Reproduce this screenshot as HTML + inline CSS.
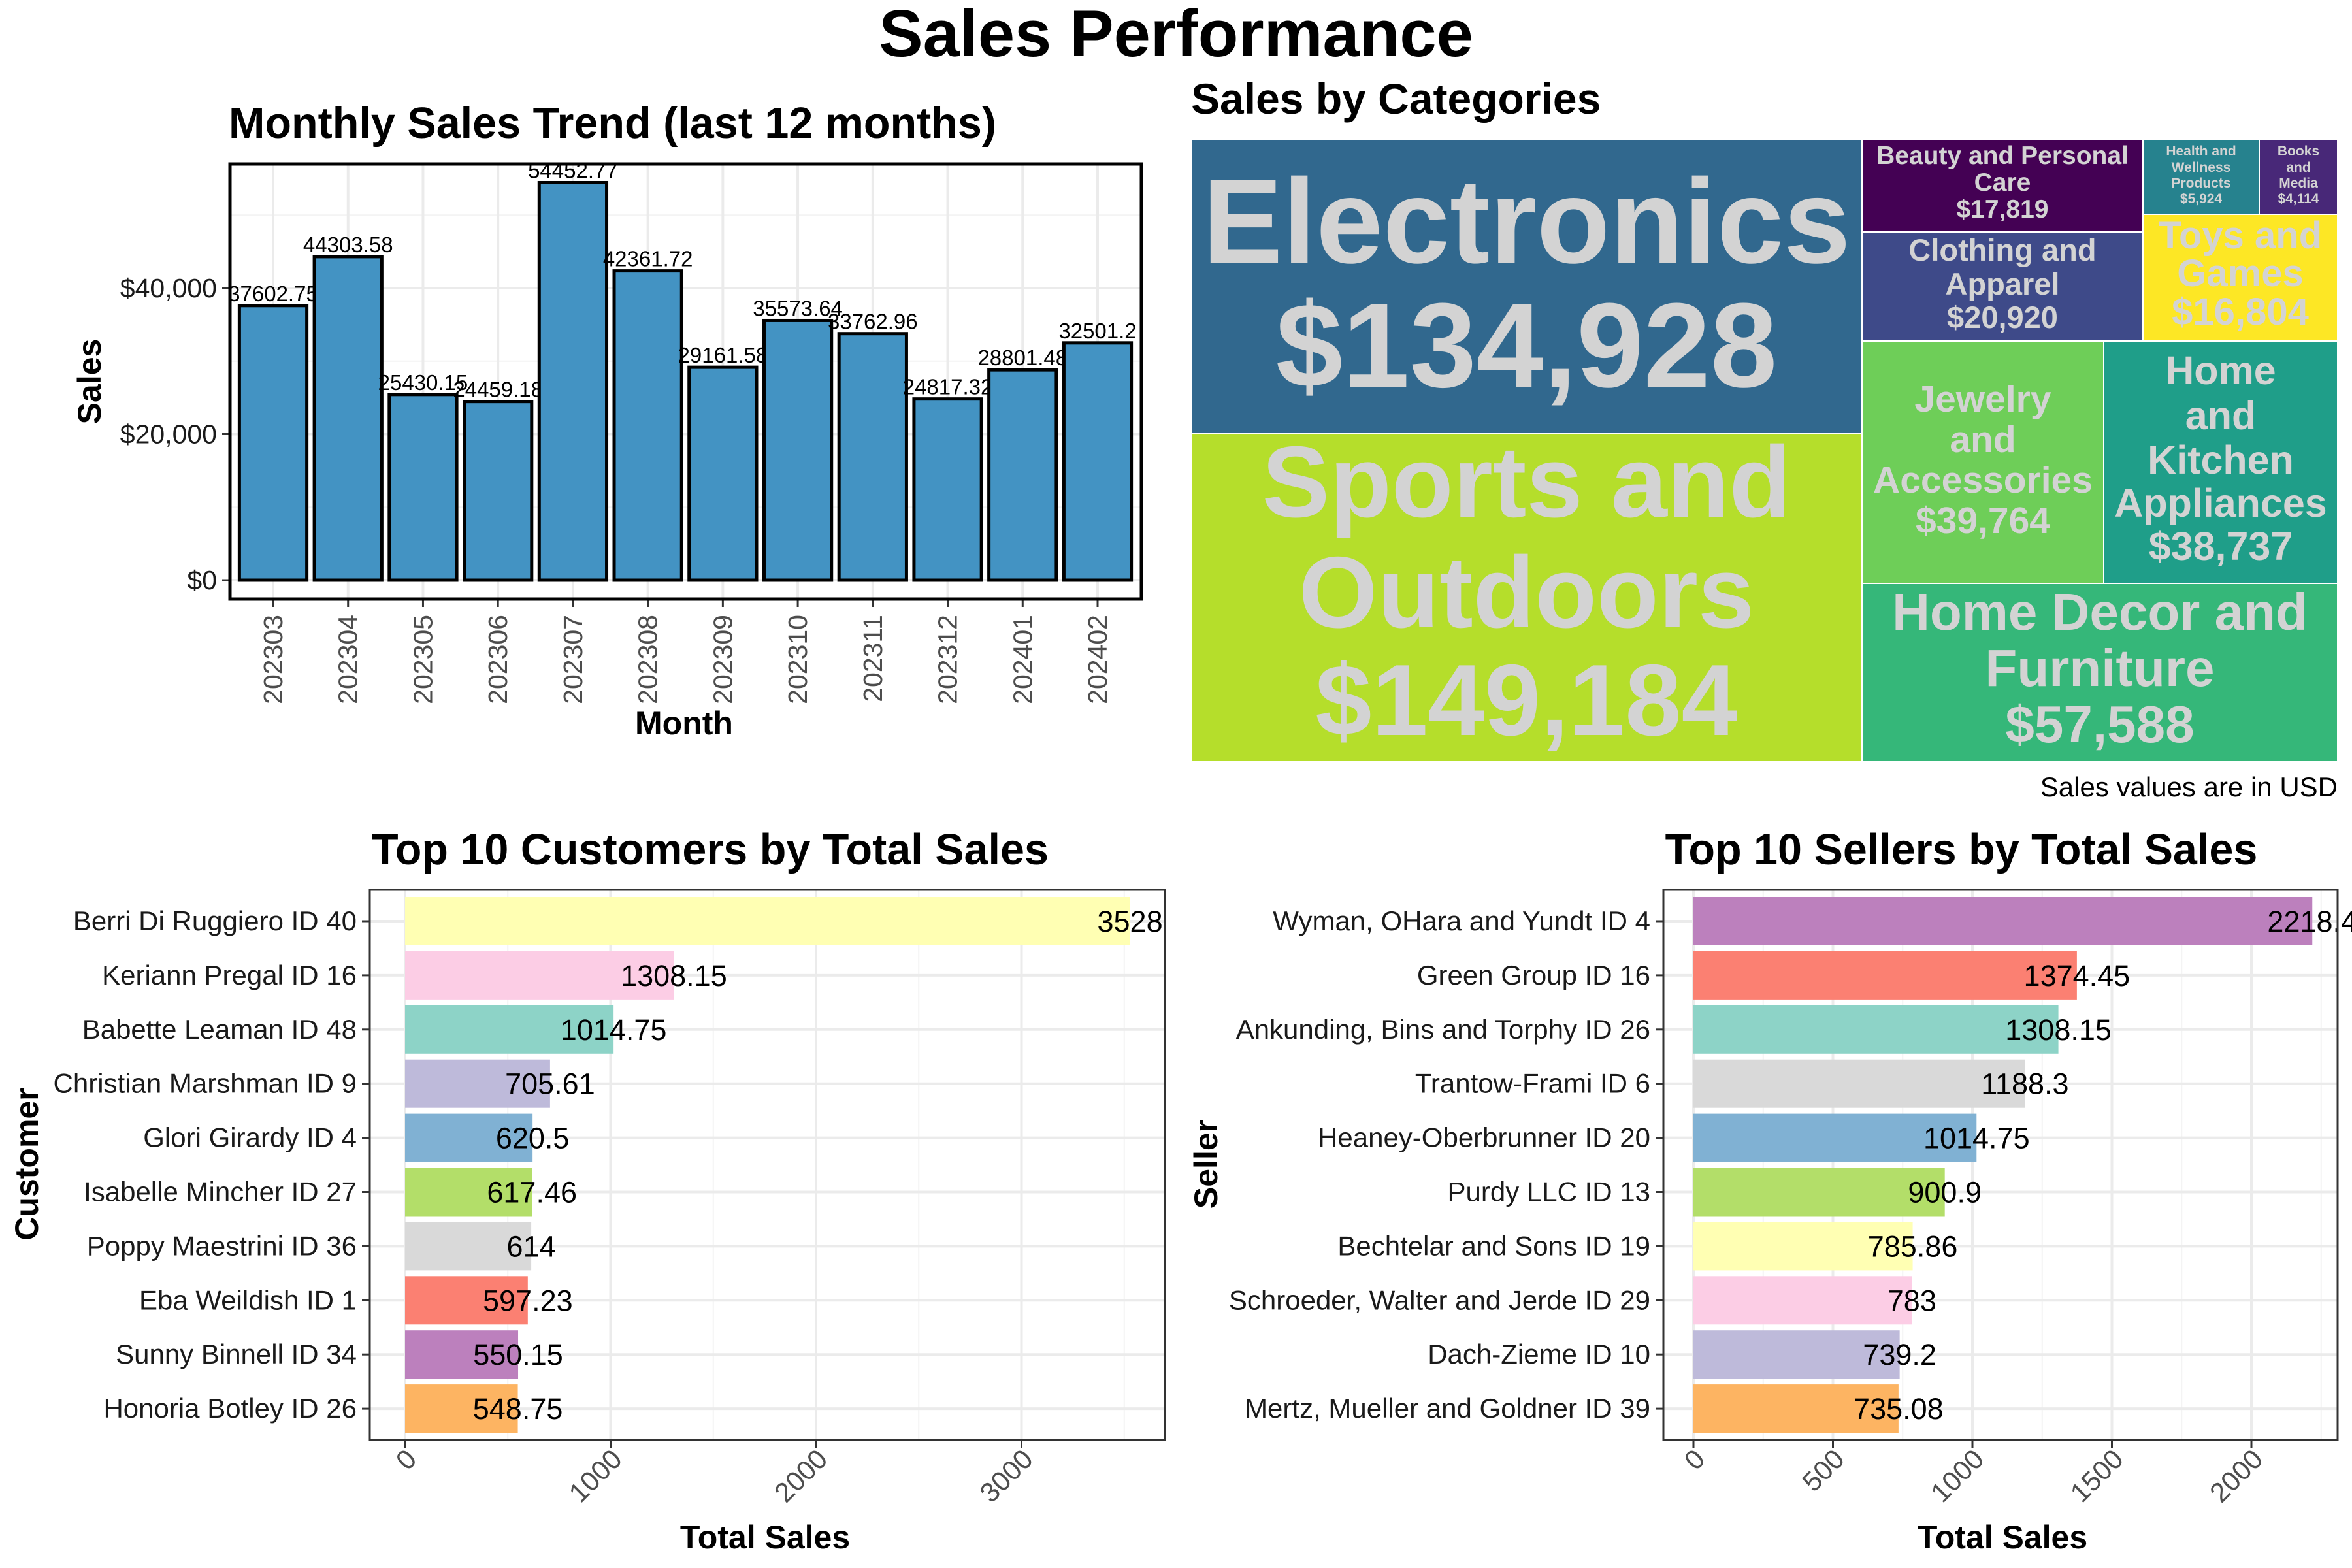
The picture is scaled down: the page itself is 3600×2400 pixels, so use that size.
<!DOCTYPE html>
<html><head><meta charset="utf-8"><style>
body{margin:0;background:#fff}
svg{display:block;font-family:"Liberation Sans",Arial,sans-serif}
</style></head><body>
<svg id="s" width="3600" height="2400" viewBox="0 0 3600 2400" xmlns="http://www.w3.org/2000/svg">
<rect width="3600" height="2400" fill="#fff"/>
<text x="1800" y="86" text-anchor="middle" font-size="101" font-weight="bold">Sales Performance</text>
<g id="p1"></g>
<g id="p2"></g>
<g id="p3"></g>
<g id="p4"></g>
</svg>
<script>
const months=["202303","202304","202305","202306","202307","202308","202309","202310","202311","202312","202401","202402"];
const monthSales=[37602.75,44303.58,25430.15,24459.18,54452.77,42361.72,29161.58,35573.64,33762.96,24817.32,28801.48,32501.2];
const monthTicks=[0,20000,40000];
const monthTickLabels=["$0","$20,000","$40,000"];

const categories=["Electronics","Sports and Outdoors","Beauty and Personal Care","Clothing and Apparel","Health and Wellness Products","Books and Media","Toys and Games","Jewelry and Accessories","Home and Kitchen Appliances","Home Decor and Furniture"];
const categorySales=[134928,149184,17819,20920,5924,4114,16804,39764,38737,57588];

const customers=["Berri Di Ruggiero ID 40","Keriann Pregal ID 16","Babette Leaman ID 48","Christian Marshman ID 9","Glori Girardy ID 4","Isabelle Mincher ID 27","Poppy Maestrini ID 36","Eba Weildish ID 1","Sunny Binnell ID 34","Honoria Botley ID 26"];
const customerSales=[3528,1308.15,1014.75,705.61,620.5,617.46,614,597.23,550.15,548.75];
const customerTicks=[0,1000,2000,3000];

const sellers=["Wyman, OHara and Yundt ID 4","Green Group ID 16","Ankunding, Bins and Torphy ID 26","Trantow-Frami ID 6","Heaney-Oberbrunner ID 20","Purdy LLC ID 13","Bechtelar and Sons ID 19","Schroeder, Walter and Jerde ID 29","Dach-Zieme ID 10","Mertz, Mueller and Goldner ID 39"];
const sellerSales=[2218.4,1374.45,1308.15,1188.3,1014.75,900.9,785.86,783,739.2,735.08];
const sellerTicks=[0,500,1000,1500,2000];

const NS="http://www.w3.org/2000/svg";
function mk(parent,tag,attrs,text){const e=document.createElementNS(NS,tag);for(const k in attrs)e.setAttribute(k,attrs[k]);if(text!==undefined)e.textContent=text;parent.appendChild(e);return e;}

/* ---------- Panel 1 ---------- */
(function(){
const g=document.getElementById('p1');
const L=352,R=1747,T=251,B=917;
const y0=888,perUnit=223.5/20000;
const yS=v=>y0-v*perUnit;
const step=(1680-418)/(months.length-1);
const xS=i=>418+i*step;
let t=mk(g,'text',{x:350,y:211,'font-size':66.5,'font-weight':'bold'},'Monthly Sales Trend (last 12 months)');


mk(g,'rect',{x:L,y:T,width:R-L,height:B-T,fill:'#fff'});
[10000,30000,50000].forEach(v=>mk(g,'line',{x1:L,x2:R,y1:yS(v),y2:yS(v),stroke:'#f4f4f4','stroke-width':2}));
monthTicks.forEach(v=>mk(g,'line',{x1:L,x2:R,y1:yS(v),y2:yS(v),stroke:'#ebebeb','stroke-width':4}));
months.forEach((m,i)=>mk(g,'line',{x1:xS(i),x2:xS(i),y1:T,y2:B,stroke:'#ebebeb','stroke-width':4}));
const bw=step*0.9;
months.forEach((m,i)=>{
 const v=monthSales[i];
 const r=mk(g,'rect',{x:xS(i)-bw/2,y:yS(v),width:bw,height:yS(0)-yS(v),fill:'#4393c3',stroke:'#000','stroke-width':5});
 
 
 const lb=mk(g,'text',{x:xS(i),y:yS(v)-7,'font-size':33,'text-anchor':'middle'},String(v));
 
 
 const tl=mk(g,'text',{x:0,y:0,'font-size':41,fill:'#4d4d4d','text-anchor':'end',transform:`translate(${xS(i)+14},${B+24}) rotate(-90)`},m);
 
 
 mk(g,'line',{x1:xS(i),x2:xS(i),y1:B,y2:B+12,stroke:'#333','stroke-width':3});
});
monthTicks.forEach((v,i)=>{
 mk(g,'line',{x1:L-12,x2:L,y1:yS(v),y2:yS(v),stroke:'#333','stroke-width':3});
 const tl=mk(g,'text',{x:L-20,y:yS(v)+14,'font-size':41,'text-anchor':'end',fill:'#1a1a1a'},monthTickLabels[i]);
 
 
});
mk(g,'rect',{x:L,y:T,width:R-L,height:B-T,fill:'none',stroke:'#000','stroke-width':5});
t=mk(g,'text',{x:1047,y:1124,'font-size':50,'font-weight':'bold','text-anchor':'middle'},'Month');


t=mk(g,'text',{x:0,y:0,'font-size':50,'font-weight':'bold','text-anchor':'middle',transform:'translate(154,584) rotate(-90)'},'Sales');


})();

/* ---------- Panel 2: treemap ---------- */
(function(){
const g=document.getElementById('p2');
let t=mk(g,'text',{x:1823,y:174,'font-size':66,'font-weight':'bold'},'Sales by Categories');


const colors=["#31688e","#b5de2b","#440154","#3e4a89","#26828e","#482878","#fde725","#6ece58","#1f9e89","#35b779"];
const boxes=[[1823,213,2850,664],[1823,664,2850,1166],[2850,213,3280,355],[2850,355,3280,522],[3280,213,3458,328],[3458,213,3578,328],[3280,328,3578,522],[2850,522,3220,893],[3220,522,3578,893],[2850,893,3578,1166]];
const lines=[["Electronics"],["Sports and","Outdoors"],["Beauty and Personal","Care"],["Clothing and","Apparel"],["Health and","Wellness","Products"],["Books","and","Media"],["Toys and","Games"],["Jewelry","and","Accessories"],["Home","and","Kitchen","Appliances"],["Home Decor and","Furniture"]];
const fs=[184,155,39,47,21,21,58,57,61,80];
const base=[[402,592],[791,960,1125],[251,292,333],[399,451,502],[238,263,287,311],[238,263,287,311],[380,438,497],[630,692,754,816],[588,657,725,791,857],[964,1050,1136]];
categories.forEach((c,i)=>{
 const b=boxes[i];
 const r=mk(g,'rect',{x:b[0],y:b[1],width:b[2]-b[0],height:b[3]-b[1],fill:colors[i],stroke:'#fff','stroke-width':2});
 
 
 const cx=(b[0]+b[2])/2;
 const all=lines[i].concat(['$'+categorySales[i].toLocaleString('en-US')]);
 all.forEach((s,j)=>{
  const tx=mk(g,'text',{x:cx,y:base[i][j],'font-size':fs[i],'font-weight':'bold','text-anchor':'middle',fill:'#d3d3d3'},s);
  
  
 });
});
t=mk(g,'text',{x:3578,y:1219,'font-size':42,'text-anchor':'end'},'Sales values are in USD');


})();

/* ---------- Horizontal bar panels ---------- */
const set3=["#ffffb3","#fccde5","#8dd3c7","#bebada","#80b1d3","#b3de69","#d9d9d9","#fb8072","#bc80bd","#fdb462"];
const set3b=["#bc80bd","#fb8072","#8dd3c7","#d9d9d9","#80b1d3","#b3de69","#ffffb3","#fccde5","#bebada","#fdb462"];
function hbar(gid,title,titleX,names,vals,ticks,L,R,x0,scale,colors,yTitle,axisTitleX){
 const g=document.getElementById(gid);
 const T=1362,B=2204,yc0=1410,step=82.9;
 const xS=v=>x0+v*scale;
 const yS=i=>yc0+i*step;
 let t=mk(g,'text',{x:titleX,y:1323,'font-size':66.5,'font-weight':'bold','text-anchor':'middle'},title);
 
 
 for(let k=0;k<ticks.length;k++){const h=ticks[1]-ticks[0];const m=ticks[k]+h/2;if(xS(m)<R)mk(g,'line',{x1:xS(m),x2:xS(m),y1:T,y2:B,stroke:'#f4f4f4','stroke-width':2});}
 ticks.forEach(v=>mk(g,'line',{x1:xS(v),x2:xS(v),y1:T,y2:B,stroke:'#ebebeb','stroke-width':4}));
 names.forEach((n,i)=>mk(g,'line',{x1:L,x2:R,y1:yS(i),y2:yS(i),stroke:'#ebebeb','stroke-width':4}));
 names.forEach((n,i)=>{
  const v=vals[i];
  const r=mk(g,'rect',{x:xS(0),y:yS(i)-37,width:xS(v)-xS(0),height:74,fill:colors[i]});
  
  
  const lb=mk(g,'text',{x:xS(v),y:yS(i)+16,'font-size':45,'text-anchor':'middle'},String(v));
  
  
  mk(g,'line',{x1:L-12,x2:L,y1:yS(i),y2:yS(i),stroke:'#333','stroke-width':3});
  const yl=mk(g,'text',{x:L-20,y:yS(i)+14,'font-size':42,'text-anchor':'end',fill:'#1a1a1a'},n);
  
  
 });
 ticks.forEach(v=>{
  mk(g,'line',{x1:xS(v),x2:xS(v),y1:B,y2:B+12,stroke:'#333','stroke-width':3});
  const tl=mk(g,'text',{x:0,y:0,'font-size':42,'text-anchor':'end',fill:'#4d4d4d',transform:`translate(${xS(v)+20},${B+32}) rotate(-45)`},String(v));
  
  
 });
 mk(g,'rect',{x:L,y:T,width:R-L,height:B-T,fill:'none',stroke:'#333','stroke-width':3});
 t=mk(g,'text',{x:axisTitleX,y:2370,'font-size':50,'font-weight':'bold','text-anchor':'middle'},'Total Sales');
 
 
 t=mk(g,'text',{x:0,y:0,'font-size':50,'font-weight':'bold','text-anchor':'middle',transform:`translate(${L<1000?58:1863},1782) rotate(-90)`},yTitle);
 
 
}
hbar('p3','Top 10 Customers by Total Sales',1087,customers,customerSales,customerTicks,566,1783,620,0.3145,set3,'Customer',1171);
hbar('p4','Top 10 Sellers by Total Sales',3002,sellers,sellerSales,sellerTicks,2546,3578,2592,0.427,set3b,'Seller',3065);
</script>
</body></html>
